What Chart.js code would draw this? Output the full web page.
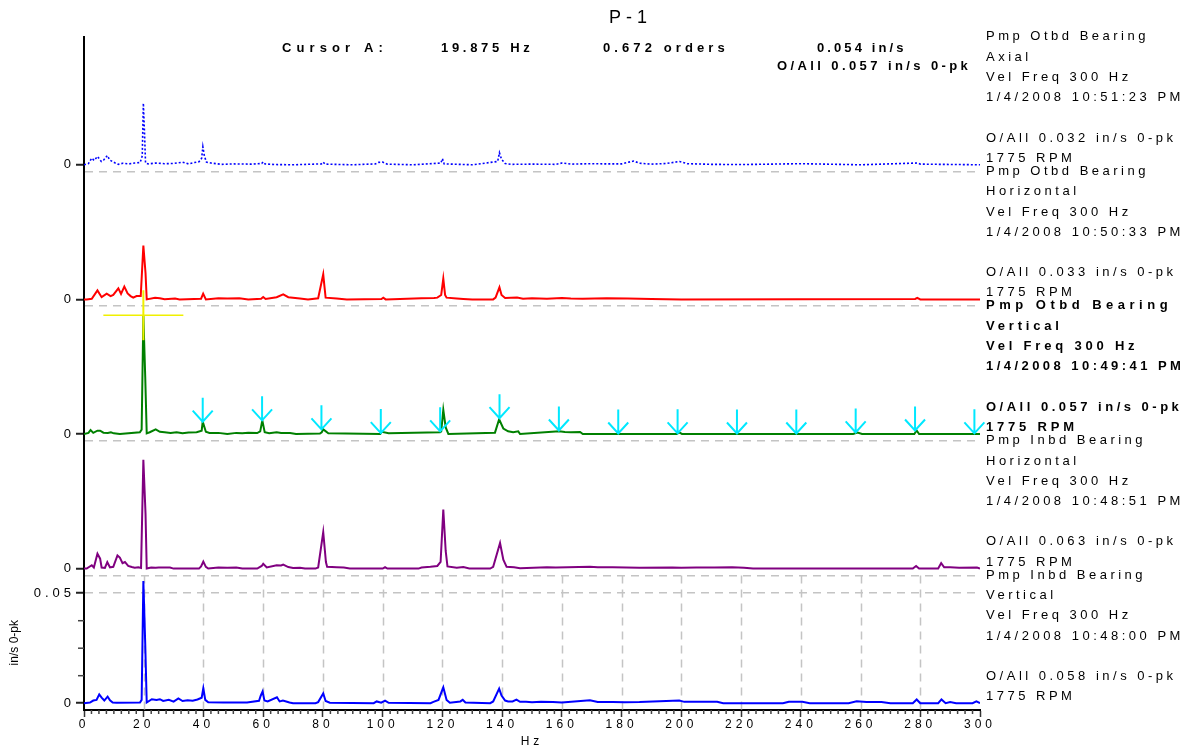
<!DOCTYPE html>
<html>
<head>
<meta charset="utf-8">
<title>P-1</title>
<script src="https://cdn.jsdelivr.net/npm/chart.js"></script>
<style>
  html, body { margin: 0; padding: 0; background: #fff; }
  #wrap { width: 1194px; height: 751px; position: relative; }
</style>
</head>
<body>
<div id="wrap"><canvas id="chart"></canvas></div>
<script>
// velocity spectra, in/s 0-pk against Hz, one pair of arrays per measurement point

// Pmp Otbd Bearing - Axial
const axialHz = [
  0, 1.5, 2.6, 3.4, 4.5, 5.8, 6.6, 7.8, 8.6, 10.3,
  11.5, 13, 15, 17, 18.8, 19.5, 19.875, 20.25, 20.6, 21.5,
  24, 27, 30, 33, 35, 37, 38.5, 39.4, 39.8, 40.3,
  41, 42.5, 46, 50, 56, 59.5, 60, 60.6, 64, 70,
  79.5, 80.1, 80.7, 90, 97.5, 98.7, 100, 101.5, 110, 119.5,
  120, 120.6, 130, 138.5, 139.1, 139.8, 141, 143, 150, 158,
  160, 163, 170, 175, 180, 184, 186, 190, 195, 199.4,
  202, 210, 220, 240, 260, 279, 280, 300
];
const axialAmp = [
  0, .0006, .003, .002, .0038, .0015, .0022, .0042, .0022, .0009,
  .0002, .0007, .0004, .0008, .001, .004, .028, .015, .0008, .0004,
  .0008, .0005, .0006, .0012, .0004, .001, .0014, .003, .0082, .004,
  .0012, .0008, .0002, .0004, .0003, .0006, .0013, .0004, .0001, 0,
  .0004, .0012, .0003, 0, .0004, .0011, .0012, .0003, 0, .0008,
  .0028, .0004, 0, .0015, .0055, .0025, .0006, .0002, .0003, .0002,
  .0008, .0003, .0005, .0004, .0004, .0017, .0007, .0003, .0006, .0015,
  .0005, .0002, .0001, .0005, 0, .0008, .0003, 0
];

// Pmp Otbd Bearing - Horizontal
const otbdHorizHz = [
  0, 0.9, 2.6, 4.5, 5.9, 7.6, 8.9, 9.8, 11.5, 12.4,
  13.5, 14.6, 15.6, 16.5, 17.6, 19, 19.875, 20.6, 21, 23.8,
  25.4, 27, 30.5, 32, 39.2, 39.9, 40.8, 45, 48, 52,
  55, 59.3, 60, 60.8, 64.5, 66.7, 68.4, 72.3, 75, 78.4,
  80.1, 80.5, 80.9, 84.6, 88, 99.6, 100.2, 101, 113, 117.2,
  118.3, 119.6, 120.3, 120.9, 121.4, 124.8, 127, 130, 137, 137.8,
  139.1, 139.8, 141, 145, 147, 150, 155, 160, 163, 167,
  175, 182, 186, 190, 200, 278.3, 279, 280, 300
];
const otbdHorizAmp = [
  0, 0, .0003, .0041, .001, .0026, .0015, .002, .005, .0025,
  .0058, .0027, .0015, .0008, .0015, .0015, .0245, .012, 0, .0007,
  .0005, .0001, .0004, 0, .0003, .0026, 0, .0005, .0004, .0005,
  0, .0003, .0011, .0002, .001, .0023, .001, .0004, 0, .0005,
  .0114, .006, .0008, .0004, 0, .0002, .0008, 0, .0005, .0006,
  .0008, .002, .0094, .002, .0008, .0004, .0002, 0, 0, .0008,
  .0055, .002, .0006, .0008, .0003, .0005, .0003, .0006, .0004, .0003,
  .0005, .0004, .0003, .0002, 0, .0002, .0007, 0, 0
];

// Pmp Otbd Bearing - Vertical (cursor panel)
const otbdVertHz = [
  0, 1.5, 2.2, 3.1, 4.5, 5.4, 6.5, 8, 9, 10,
  12, 18.7, 19.3, 19.875, 20.5, 21, 22, 24, 25.4, 27,
  29, 31, 33, 35, 37.7, 39.4, 39.75, 40.8, 42, 45,
  48, 51, 53, 55, 58, 59, 59.7, 60.5, 62, 64.5,
  66, 69, 71, 79, 79.6, 80.1, 81.8, 99.2, 99.7, 102,
  119.2, 119.6, 120.3, 121.1, 122, 137.6, 139, 140.4, 142, 143.7,
  145.4, 146, 159.1, 161, 163, 166.1, 167, 198.5, 199.3, 200.2,
  257.5, 259, 260.5, 278, 278.8, 279.6, 300
];
const otbdVertAmp = [
  0, .0005, .0018, .0005, .0015, .0015, .0006, .0005, .0008, .0003,
  0, .0008, .002, .054, .026, .0003, .0008, .0021, .001, .0008,
  .0004, .0008, .0003, .0007, .0008, .0015, .0056, .001, .0005, .0005,
  0, .0005, .0003, .0006, .0004, .0012, .0062, .0008, .0003, .0008,
  .0004, .0004, 0, .0002, .0008, .0021, .0003, 0, .001, .0003,
  .0008, .0012, .011, .003, 0, .0006, .0067, .0025, .0012, .0008,
  .0012, 0, .0012, .0009, .0008, .0009, 0, 0, .0007, 0,
  0, .0007, 0, 0, .0016, 0, 0
];

// Pmp Inbd Bearing - Horizontal
const inbdHorizHz = [
  0, 0.9, 2.6, 3.3, 4.5, 5.4, 5.9, 7, 7.8, 8.7,
  9.8, 11.2, 12, 12.9, 13.7, 14.8, 16, 17, 18.2, 19.1,
  19.875, 20.6, 21, 22.5, 24, 25, 28.8, 30, 38.5, 39.2,
  39.95, 40.8, 41.6, 45, 48, 51, 53, 58, 59.5, 60,
  61.2, 64.5, 66, 66.7, 68.4, 70, 72.3, 74, 77.5, 78.4,
  80.1, 81, 81.4, 84.6, 87, 89, 100, 100.8, 101.6, 112,
  113, 116, 118.3, 119.4, 120.3, 121.1, 121.7, 124.8, 127, 129,
  136, 137, 139.3, 140.4, 141.5, 144, 146, 155, 158, 162,
  169.4, 172, 177, 186, 197, 200, 205, 211, 217, 221,
  224, 277.5, 278.6, 279.6, 286, 287, 288, 290, 293, 299,
  300
];
const inbdHorizAmp = [
  0, 0, .0015, .0005, .0068, .0045, .0005, .0003, .0029, .0005,
  .0008, .006, .005, .0025, .003, .0012, .0007, .0004, .0006, .0003,
  .0495, .025, 0, .0005, .0004, .0005, .0005, 0, 0, .001,
  .0032, .0008, 0, .0005, .0004, .0005, 0, 0, .0012, .0022,
  .0005, .0015, .0014, .0018, .0007, .0003, .0004, 0, 0, .0005,
  .0166, .003, .0008, .0006, .0005, 0, 0, .0006, 0, 0,
  .0005, .0008, .0012, .003, .0268, .008, .001, .0004, .0007, 0,
  0, .0008, .0116, .004, .0008, .0006, .0002, .0006, .0005, .0006,
  .0008, .0006, .0006, .0004, .0005, .0004, .0005, .0005, .0006, .0004,
  0, 0, .0012, 0, 0, .0025, .0006, .0006, .0004, .0005,
  0
];

// Pmp Inbd Bearing - Vertical
const inbdVertHz = [
  0, 2, 3.1, 4.2, 5.1, 5.9, 6.8, 7.9, 8.7, 9.6,
  10.9, 18.75, 19.3, 19.875, 20.5, 21, 22.7, 24.3, 25.4, 26.5,
  28.4, 30, 31.6, 33, 34.7, 36.4, 38, 39.4, 39.95, 40.6,
  41.6, 46.7, 49, 54.6, 58.6, 59.2, 59.8, 60.4, 61.5, 64.6,
  65.5, 66.6, 68.8, 70, 77.5, 78.4, 80.1, 80.9, 82.3, 97,
  98, 99.5, 100.8, 102, 116, 117, 118.7, 120.3, 121.4, 122.5,
  126, 126.8, 127.7, 136, 137, 139, 139.8, 141, 142, 143.5,
  144.8, 146, 148, 150, 153, 157, 160, 169.4, 172, 177,
  181, 186, 195, 199.3, 201, 212, 214, 234, 236, 240.5,
  243, 256, 258.7, 262, 267, 270, 277.5, 278.8, 280, 286,
  287.1, 288.5, 290, 292, 297.5, 298.8, 300
];
const inbdVertAmp = [
  0, .0003, .0012, .0015, .004, .0025, .0012, .003, .0013, .0003,
  .0002, .0003, .0015, .0555, .027, .0003, .0018, .0015, .0018, .001,
  .0015, .0007, .0022, .001, .0013, .0011, .0017, .0025, .0068, .0015,
  .0004, .0003, .0003, .0003, .0011, .0035, .0053, .0012, .0008, .0027,
  .0008, .0012, .0003, 0, 0, .0005, .0044, .001, .0002, 0,
  .0008, .0002, .0012, .0002, 0, .0006, .0015, .0072, .0015, .0002,
  .0008, .0015, .0003, 0, .0008, .0066, .0035, .0012, .0008, .0008,
  .0016, .0006, .0006, .0004, .0006, .0005, .0003, .0013, .0005, .0005,
  .0004, .0005, .001, .0012, .0006, .0006, 0, 0, .0006, .0006,
  0, 0, .0009, .0005, .0005, 0, 0, .0017, 0, 0,
  .0017, 0, .0005, 0, 0, .0008, 0
];

// cursor A and the harmonic markers on the vertical spectrum
const cursorHz = 19.875;
const cursorAmp = 0.054;
const harmonicHz = [39.75, 59.625, 79.5, 99.375, 119.25, 139.125, 159, 178.875, 198.75, 218.625, 238.5, 258.375, 278.25, 298.125];
const harmonicAmp = [.0056, .0062, .0021, .0004, .0012, .0072, .0016, .0002, .0003, .0002, .0002, .0007, .0016, .0003];

// axis ticks
const hzMajorStep = 20;
const hzMinorStep = 2.5;
const ampMin = -0.0031;
const ampMax = 0.0581;
const ampLabelTicks = [0, 0.05];
const ampMinorTicks = [0.0125, 0.025, 0.0375];

// panel captions, top to bottom
const panelPoint = ['Pmp Otbd Bearing', 'Pmp Otbd Bearing', 'Pmp Otbd Bearing', 'Pmp Inbd Bearing', 'Pmp Inbd Bearing'];
const panelDir = ['Axial', 'Horizontal', 'Vertical', 'Horizontal', 'Vertical'];
const panelDate = ['1/4/2008 10:51:23 PM', '1/4/2008 10:50:33 PM', '1/4/2008 10:49:41 PM', '1/4/2008 10:48:51 PM', '1/4/2008 10:48:00 PM'];
const panelOverall = ['O/All 0.032 in/s 0-pk', 'O/All 0.033 in/s 0-pk', 'O/All 0.057 in/s 0-pk', 'O/All 0.063 in/s 0-pk', 'O/All 0.058 in/s 0-pk'];
const panelFreq = 'Vel Freq 300 Hz';
const panelRpm = '1775 RPM';

const FONT = '"Liberation Sans", Arial, sans-serif';
Chart.defaults.font.family = FONT;
Chart.defaults.color = '#000';

const traces = [
  { axis: 'yAxial', hz: axialHz, amp: axialAmp, color: '#0000ff', width: 1.6, dash: [2, 2] },
  { axis: 'yOtbdH', hz: otbdHorizHz, amp: otbdHorizAmp, color: '#ff0000', width: 2, dash: [] },
  { axis: 'yOtbdV', hz: otbdVertHz, amp: otbdVertAmp, color: '#008000', width: 2, dash: [] },
  { axis: 'yInbdH', hz: inbdHorizHz, amp: inbdHorizAmp, color: '#800080', width: 2, dash: [] },
  { axis: 'yInbdV', hz: inbdVertHz, amp: inbdVertAmp, color: '#0000ff', width: 2, dash: [] }
];

const CLEAR = 'rgba(0,0,0,0)';
const GRID = '#c4c4c4';

function panelScale(isBottom) {
  return {
    type: 'linear',
    position: 'left',
    stack: 'spectra',
    stackWeight: 1,
    min: ampMin,
    max: ampMax,
    afterBuildTicks: s => {
      const vals = isBottom ? ampLabelTicks : [ampMin, 0];
      s.ticks = vals.map(v => ({ value: v }));
    },
    ticks: {
      autoSkip: false,
      padding: 1,
      font: { size: 13 },
      color: '#000',
      callback: v => (v === 0 ? '0' : v === 0.05 ? '0.05' : '')
    },
    grid: {
      lineWidth: 1.5,
      color: c => (c.tick && c.tick.value !== 0 ? GRID : CLEAR),
      tickColor: c => (c.tick && c.tick.value !== ampMin ? '#222' : CLEAR),
      tickLength: 8,
      tickWidth: 2
    },
    border: { color: '#000', width: 2, dash: [8, 6] },
    afterFit: s => { s.width = 84; }
  };
}

// stacked left axes: the last one added ends up on top
const scales = {
  x: {
    type: 'linear',
    position: 'bottom',
    min: 0,
    max: 300,
    ticks: { stepSize: hzMajorStep, autoSkip: false, maxRotation: 0, padding: 0, font: { size: 12 }, color: '#000' },
    grid: { drawOnChartArea: false, tickLength: 7, tickColor: '#333', tickWidth: 1.5 },
    border: { color: '#000', width: 2 },
    title: { display: true, text: 'Hz', color: '#000', font: { size: 12 }, padding: { top: 0, bottom: 2 } },
    afterFit: s => { s.height = 41; }
  },
  yInbdV: panelScale(true),
  yInbdH: panelScale(false),
  yOtbdV: panelScale(false),
  yOtbdH: panelScale(false),
  yAxial: panelScale(false)
};

function line(ctx, x1, y1, x2, y2) {
  ctx.beginPath();
  ctx.moveTo(x1, y1);
  ctx.lineTo(x2, y2);
  ctx.stroke();
}

function text(ctx, str, x, y, font, spacing, align) {
  ctx.save();
  ctx.font = font;
  ctx.letterSpacing = spacing + 'px';
  ctx.fillStyle = '#000';
  ctx.textAlign = align || 'left';
  ctx.textBaseline = 'middle';
  ctx.fillText(str, x, y);
  ctx.restore();
}

const overlay = {
  id: 'overlay',
  beforeDraw(chart) {
    const { ctx } = chart;
    ctx.save();
    ctx.fillStyle = '#fff';
    ctx.fillRect(0, 0, chart.width, chart.height);
    ctx.restore();
    // the tick labels of the original are widely spaced
    ctx.letterSpacing = '4px';
  },
  beforeDatasetsDraw(chart) {
    const { ctx } = chart;
    const x = chart.scales.x;
    const yb = chart.scales.yInbdV;
    ctx.save();
    // dashed frequency grid, bottom panel only
    ctx.strokeStyle = GRID;
    ctx.lineWidth = 1.5;
    ctx.setLineDash([8, 6]);
    for (let f = hzMajorStep; f < 300; f += hzMajorStep) {
      const px = Math.round(x.getPixelForValue(f)) + 0.5;
      line(ctx, px, yb.top, px, yb.bottom);
    }
    ctx.setLineDash([]);
    // minor ticks
    ctx.strokeStyle = '#444';
    ctx.lineWidth = 1.5;
    for (let f = 0; f <= 300; f += hzMinorStep) {
      if (f % hzMajorStep === 0) continue;
      const px = x.getPixelForValue(f);
      line(ctx, px, x.top, px, x.top + 4);
    }
    ampMinorTicks.forEach(v => {
      const py = yb.getPixelForValue(v);
      line(ctx, yb.right - 6, py, yb.right, py);
    });
    ctx.restore();
  },
  afterDatasetsDraw(chart) {
    const { ctx } = chart;
    const x = chart.scales.x;
    const yv = chart.scales.yOtbdV;
    ctx.save();
    // harmonic markers
    ctx.strokeStyle = '#00e8ff';
    ctx.lineWidth = 2;
    harmonicHz.forEach((f, i) => {
      const px = x.getPixelForValue(f);
      const py = yv.getPixelForValue(harmonicAmp[i]);
      ctx.beginPath();
      ctx.moveTo(px, py - 24);
      ctx.lineTo(px, py);
      ctx.moveTo(px - 10, py - 11);
      ctx.lineTo(px, py);
      ctx.lineTo(px + 10, py - 11);
      ctx.stroke();
    });
    // cursor A crosshair
    const cx = x.getPixelForValue(cursorHz);
    const cy = yv.getPixelForValue(cursorAmp);
    ctx.strokeStyle = '#f0f000';
    ctx.lineWidth = 1.5;
    line(ctx, cx - 40, cy, cx + 40, cy);
    ctx.lineWidth = 2;
    line(ctx, cx, cy - 25, cx, cy + 25);
    ctx.restore();
  },
  afterDraw(chart) {
    const { ctx, chartArea } = chart;
    const reg = '13px ' + FONT;
    const bold = 'bold 13px ' + FONT;
    const head = 'bold 13px ' + FONT;

    text(ctx, 'P-1', 609, 18, '18px ' + FONT, 5);
    text(ctx, 'Cursor A:', 282, 48.5, head, 5.1);
    text(ctx, '19.875 Hz', 441, 48.5, head, 3.7);
    text(ctx, '0.672 orders', 603, 48.5, head, 4.1);
    text(ctx, '0.054 in/s', 817, 48.5, head, 3.1);
    text(ctx, 'O/All 0.057 in/s 0-pk', 777, 66, head, 3.4);

    // letter spacing of the bold (selected) caption differs per line in the original
    const boldSpacing = [4.5, 3.8, 3.8, 3.45, 3.5, 3.8];
    const rowOffset = [-0.3, 20.2, 40.4, 60.6, 101, 121.3];
    ['yAxial', 'yOtbdH', 'yOtbdV', 'yInbdH', 'yInbdV'].forEach((id, i) => {
      const top = chart.scales[id].top;
      const sel = i === 2;
      const f = sel ? bold : reg;
      const lx = chartArea.right + 6;
      const rows = [panelPoint[i], panelDir[i], panelFreq, panelDate[i], panelOverall[i], panelRpm];
      rows.forEach((r, k) => text(ctx, r, lx, top + rowOffset[k], f, sel ? boldSpacing[k] : 3.5));
    });

    const yb = chart.scales.yInbdV;
    ctx.save();
    ctx.translate(15, (yb.top + yb.bottom) / 2);
    ctx.rotate(-Math.PI / 2);
    ctx.letterSpacing = '0px';
    ctx.font = '12px ' + FONT;
    ctx.fillStyle = '#000';
    ctx.textAlign = 'center';
    ctx.textBaseline = 'middle';
    ctx.fillText('in/s 0-pk', 0, 0);
    ctx.restore();
  }
};

new Chart(document.getElementById('chart'), {
  type: 'line',
  data: {
    datasets: traces.map(t => ({
      data: t.hz.map((f, i) => ({ x: f, y: t.amp[i] })),
      yAxisID: t.axis,
      borderColor: t.color,
      borderWidth: t.width,
      borderDash: t.dash,
      pointRadius: 0,
      tension: 0,
      fill: false
    }))
  },
  options: {
    responsive: true,
    maintainAspectRatio: false,
    animation: false,
    events: [],
    layout: { padding: { top: 37, right: 214, bottom: 0, left: 0 } },
    plugins: { legend: { display: false }, tooltip: { enabled: false } },
    scales
  },
  plugins: [overlay]
});
</script>
</body>
</html>
